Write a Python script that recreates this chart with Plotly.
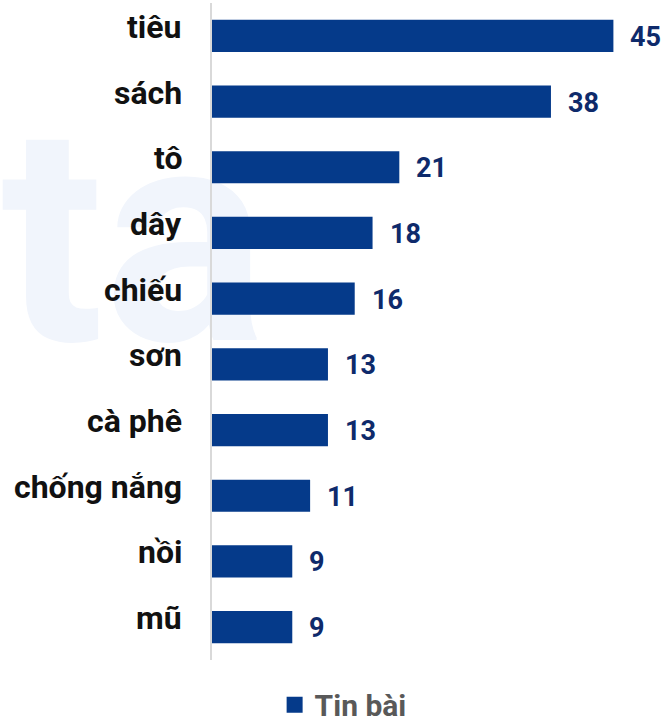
import base64
import plotly.graph_objects as go

# data
categories = ['tiêu', 'sách', 'tô', 'dây', 'chiếu', 'sơn', 'cà phê', 'chống nắng', 'nồi', 'mũ']
tin_bai = [45, 38, 21, 18, 16, 13, 13, 11, 9, 9]

BAR_COLOR = '#053a8a'
FONT = 'Roboto'

fig = go.Figure()
fig.add_trace(go.Bar(
    x=tin_bai,
    y=categories,
    orientation='h',
    name='Tin bài',
    showlegend=False,
    marker=dict(color=BAR_COLOR, line=dict(width=0)),
))
# legend-only entry so the square swatch can be larger
fig.add_trace(go.Scatter(
    x=[None], y=[None], mode='markers', name='Tin bài',
    marker=dict(symbol='square', size=18, color=BAR_COLOR),
))

# category labels sit a little above the bar centre
for cat in categories:
    fig.add_annotation(
        x=0, xref='paper', y=cat, yref='y',
        text=cat, showarrow=False,
        xanchor='right', yanchor='middle',
        xshift=-28, yshift=9,
        font=dict(family=FONT, size=32, color='#111111', weight=700),
    )

# value labels to the right of each bar
for cat, val in zip(categories, tin_bai):
    fig.add_annotation(
        x=val, y=cat, text=str(val), showarrow=False,
        xanchor='left', yanchor='middle', xshift=15, yshift=-1,
        font=dict(family=FONT, size=27, color='#0e2a6b', weight=700),
    )

# faint "ta" watermark behind the bars
svg = ("<svg xmlns='http://www.w3.org/2000/svg' width='280' height='215' viewBox='0 0 280 215'>"
       "<text x='0' y='205' font-family='Roboto' font-weight='700' font-size='304' "
       "fill='#f1f5fc'>ta</text></svg>")
fig.add_layout_image(
    source='data:image/svg+xml;base64,' + base64.b64encode(svg.encode()).decode(),
    xref='paper', yref='paper',
    x=-211 / 446, y=(660 - 135) / 657,
    sizex=280 / 446, sizey=215 / 657,
    xanchor='left', yanchor='top', sizing='stretch', layer='below',
)

fig.update_layout(
    width=664,
    height=726,
    margin=dict(l=212, r=6, t=3, b=66, autoexpand=False),
    paper_bgcolor='white',
    plot_bgcolor='rgba(0,0,0,0)',
    bargap=0.51,
    showlegend=True,
    legend=dict(
        orientation='h',
        x=0.294, xanchor='center',
        y=-0.068, yanchor='middle',
        font=dict(family=FONT, size=30, color='#595959', weight=700),
        itemwidth=30,
    ),
    xaxis=dict(
        range=[0, 50], showgrid=False, zeroline=False,
        showticklabels=False, showline=False, fixedrange=True,
    ),
    yaxis=dict(
        categoryorder='array', categoryarray=categories[::-1],
        showgrid=False, zeroline=False, showticklabels=False,
        showline=True, linecolor='#d9d9d9', linewidth=2,
        ticks='', fixedrange=True,
    ),
)

fig.write_html('out.html', config={'displayModeBar': False},
               post_script="document.body.style.margin='0';")
